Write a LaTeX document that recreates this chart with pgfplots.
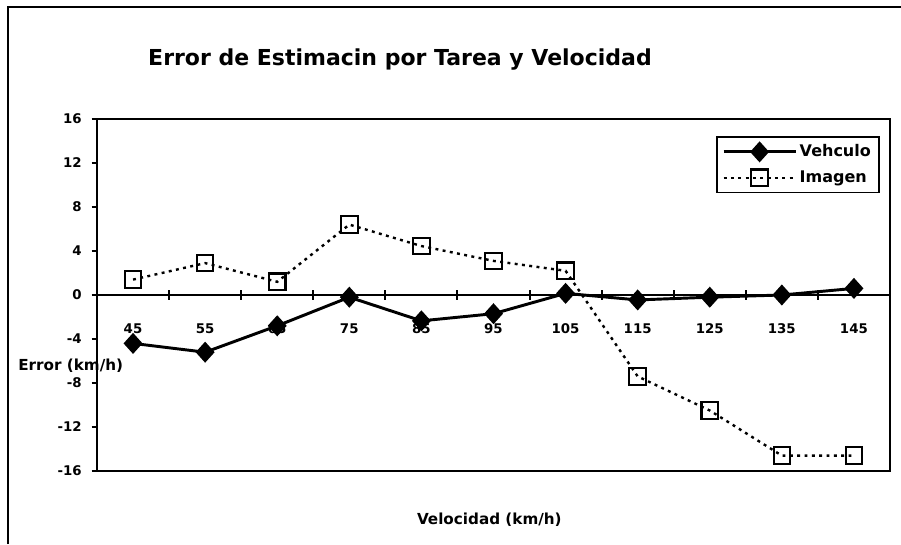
\documentclass[border=0pt]{standalone}
\usepackage{fontspec}
\setmainfont{DejaVu Sans}
\usepackage{pgfplots}
\pgfplotsset{compat=1.18}
\pgfplotstableread{
x y
45 -4.4
55 -5.2
65 -2.8
75 -0.2
85 -2.35
95 -1.7
105 0.15
115 -0.45
125 -0.2
135 0.0
145 0.6
}\vehiculo
\pgfplotstableread{
x y
45 1.4
55 2.9
65 1.2
75 6.4
85 4.45
95 3.1
105 2.2
115 -7.4
125 -10.5
135 -14.6
145 -14.6
}\imagen
\begin{document}
\begin{tikzpicture}
\path[use as bounding box] (0,0) rectangle (675.75pt,408pt);
\draw[line width=1.5pt] (6pt,0) -- (6pt,403pt) -- (675.75pt,403pt);
% zero line with category labels
\begin{axis}[
  at={(72.75pt,54.75pt)}, anchor=south west,
  scale only axis, width=594.75pt, height=264pt,
  xmin=40, xmax=150, ymin=-16, ymax=16,
  axis x line=middle, axis y line=none,
  axis line style={-, line width=1.8pt},
  xtick={40,50,...,150},
  xticklabels={45,55,65,75,85,95,105,115,125,135,145,{}},
  tick align=center,
  major tick length=7.5pt,
  x tick style={line width=1.5pt, black},
  xticklabel style={font=\bfseries\fontsize{10}{12}\selectfont, anchor=north, xshift=27pt, yshift=-14pt},
]
\addplot[draw=none] coordinates {(45,0)};
\end{axis}
\begin{axis}[
  at={(72.75pt,54.75pt)}, anchor=south west,
  scale only axis, width=594.75pt, height=264pt,
  xmin=40, xmax=150, ymin=-16, ymax=16,
  xtick=\empty,
  ytick={-16,-12,...,16},
  yticklabels={-16,-12,-8,-4,0,4,8,12,16},
  ytick pos=left,
  tick align=outside,
  major tick length=4pt,
  y tick style={line width=1.5pt, black},
  axis line style={line width=1.8pt},
  yticklabel style={font=\bfseries\fontsize{10}{12}\selectfont, xshift=-4pt},
  clip=false,
  legend style={at={(0.7806,0.9517)}, anchor=north west, draw=black, line width=1.2pt,
    font=\bfseries\fontsize{12}{14}\selectfont, inner xsep=4pt, inner ysep=4pt, row sep=5pt},
  legend cell align=left,
  legend image code/.code={\draw[mark repeat=2,mark phase=2,#1] plot coordinates {(0pt,0pt) (27pt,0pt) (54pt,0pt)};},
]
\addplot[black, line width=2.2pt, mark=diamond*, mark size=7pt, mark options={solid, fill=black, line width=1.2pt, xscale=1.2}] table {\vehiculo};
\addlegendentry{Vehculo}
\addplot[black, line width=1.8pt, dash pattern=on 2.2pt off 3.3pt, mark=square, mark size=6.2pt, mark options={solid, fill=white, line width=1.6pt}] table {\imagen};
\addlegendentry{Imagen}
\end{axis}
\node[anchor=center, font=\bfseries\fontsize{16.5}{19}\selectfont] at (300pt,363pt) {Error de Estimacin por Tarea y Velocidad};
\node[anchor=west, inner sep=0pt, font=\bfseries\fontsize{11.4}{13}\selectfont] at (13.5pt,133.5pt) {Error (km/h)};
\node[anchor=center, font=\bfseries\fontsize{11.4}{13}\selectfont] at (367pt,18pt) {Velocidad (km/h)};
\end{tikzpicture}
\end{document}
